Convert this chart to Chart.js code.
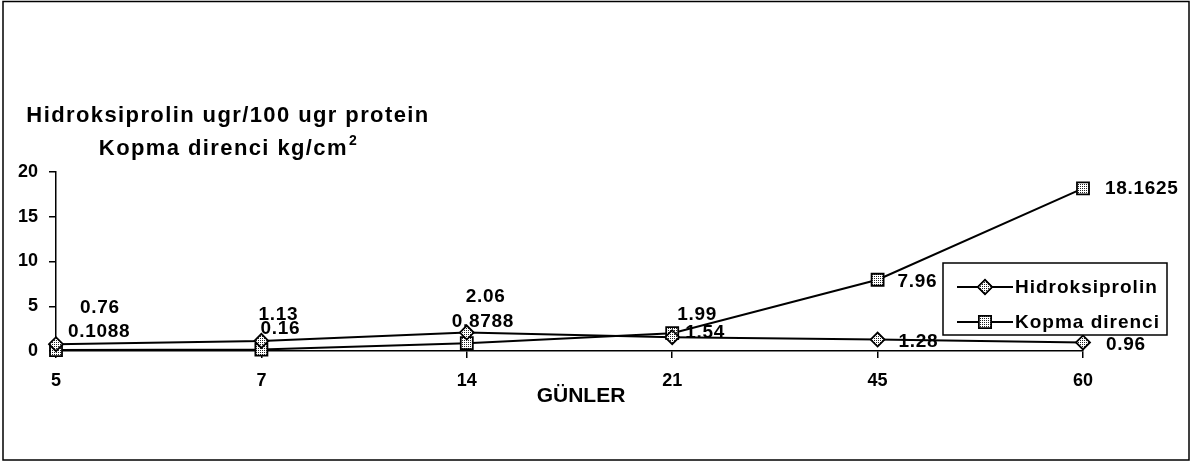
<!DOCTYPE html>
<html>
<head>
<meta charset="utf-8">
<script src="https://cdn.jsdelivr.net/npm/chart.js@4"></script>
<style>
  body { margin: 0; background: #fff; }
  canvas { display: block; }
</style>
</head>
<body>
<canvas id="chart" width="1194" height="464"></canvas>
<script>
// ================= DATA =================
const days = ["5", "7", "14", "21", "45", "60"];
const hidroksiprolin = [0.76, 1.13, 2.06, 1.54, 1.28, 0.96];
const kopmaDirenci = [0.1088, 0.16, 0.8788, 1.99, 7.96, 18.1625];
const yTicks = [0, 5, 10, 15, 20];

const titleLines = ["Hidroksiprolin ugr/100 ugr protein", "Kopma direnci kg/cm"];
const xTitle = "GÜNLER";

// label offsets (px) from each point, text left edge / vertical centre
const hLabelDx = [24, -3, -1, 13, 21, 23];
const hLabelDy = [-36, -26, -36, -4, 2, 2];
const kLabelDx = [12, -1, -15, 5, 20, 22];
const kLabelDy = [-18, -21, -21, -18, 2, 0];

const FONT = "'Liberation Sans', Arial, sans-serif";

// stippled fill for the markers
const tile = document.createElement("canvas");
tile.width = 2; tile.height = 2;
const tctx = tile.getContext("2d");
tctx.fillStyle = "#fff";
tctx.fillRect(0, 0, 2, 2);
tctx.fillStyle = "#222";
tctx.fillRect(0, 0, 1, 1);
const canvas = document.getElementById("chart");
const dotFill = canvas.getContext("2d").createPattern(tile, "repeat");

// ================= DRAWING EXTRAS =================
const extras = {
  id: "extras",
  afterDraw(chart) {
    const ctx = chart.ctx;
    ctx.save();

    // outer frame
    ctx.strokeStyle = "#000";
    ctx.lineWidth = 1.5;
    ctx.strokeRect(3, 1.5, 1186, 458.5);

    // title
    ctx.fillStyle = "#000";
    ctx.textBaseline = "alphabetic";
    ctx.textAlign = "left";
    ctx.font = "bold 22px " + FONT;
    ctx.letterSpacing = "1.4px";
    const w1 = ctx.measureText(titleLines[0]).width;
    ctx.fillText(titleLines[0], 228 - w1 / 2, 122);
    const w2 = ctx.measureText(titleLines[1]).width;
    ctx.font = "bold 14px " + FONT;
    const ws = ctx.measureText("2").width;
    const x2 = 228 - (w2 + ws) / 2;
    ctx.font = "bold 22px " + FONT;
    ctx.fillText(titleLines[1], x2, 155);
    ctx.font = "bold 14px " + FONT;
    ctx.fillText("2", x2 + w2 + 1, 145);

    // x axis title
    ctx.font = "bold 21px " + FONT;
    ctx.letterSpacing = "0px";
    ctx.textAlign = "center";
    ctx.textBaseline = "middle";
    ctx.fillText(xTitle, 581, 396);

    // data labels
    ctx.font = "bold 19px " + FONT;
    ctx.letterSpacing = "0.7px";
    ctx.textAlign = "left";
    const offs = [[hLabelDx, hLabelDy], [kLabelDx, kLabelDy]];
    chart.data.datasets.forEach((ds, i) => {
      const meta = chart.getDatasetMeta(i);
      meta.data.forEach((pt, j) => {
        ctx.fillText(String(ds.data[j]), pt.x + offs[i][0][j], pt.y + offs[i][1][j]);
      });
    });

    // legend
    const lx = 943, ly = 263, lw = 224, lh = 72;
    ctx.fillStyle = "#fff";
    ctx.fillRect(lx, ly, lw, lh);
    ctx.strokeStyle = "#000";
    ctx.lineWidth = 1.5;
    ctx.strokeRect(lx, ly, lw, lh);
    ctx.font = "bold 19px " + FONT;
    ctx.letterSpacing = "1px";
    chart.data.datasets.forEach((ds, i) => {
      const cy = ly + 24 + i * 35;
      ctx.beginPath();
      ctx.moveTo(lx + 14, cy);
      ctx.lineTo(lx + 70, cy);
      ctx.lineWidth = 2;
      ctx.stroke();
      Chart.helpers.drawPoint(ctx, {
        pointStyle: ds.pointStyle,
        radius: ds.pointRadius,
        borderWidth: 1.5
      }, lx + 42, cy);
      ctx.fillStyle = dotFill;
      ctx.fill();
      ctx.lineWidth = 1.5;
      ctx.stroke();
      ctx.fillStyle = "#000";
      ctx.fillText(ds.label, lx + 72, cy + 1);
    });

    ctx.restore();
  }
};

// ================= CHART =================
const tickFont = { family: FONT, size: 18, weight: "bold" };

new Chart(canvas, {
  type: "line",
  data: {
    labels: days,
    datasets: [
      {
        label: "Hidroksiprolin",
        data: hidroksiprolin,
        borderColor: "#000",
        borderWidth: 2,
        pointStyle: "rectRot",
        pointRadius: 7,
        pointBorderColor: "#000",
        pointBorderWidth: 1.8,
        pointBackgroundColor: dotFill,
        tension: 0,
        clip: false
      },
      {
        label: "Kopma direnci",
        data: kopmaDirenci,
        borderColor: "#000",
        borderWidth: 2,
        pointStyle: "rect",
        pointRadius: 8.5,
        pointBorderColor: "#000",
        pointBorderWidth: 1.8,
        pointBackgroundColor: dotFill,
        tension: 0,
        clip: false
      }
    ]
  },
  options: {
    responsive: false,
    animation: false,
    layout: { padding: { left: 0, right: 111, top: 172, bottom: 0 } },
    plugins: {
      legend: { display: false },
      tooltip: { enabled: false },
      title: { display: false }
    },
    scales: {
      x: {
        offset: false,
        grid: { display: true, drawOnChartArea: false, drawTicks: true, tickLength: 7, color: "#000", lineWidth: 1.5 },
        border: { display: true, color: "#000", width: 1.5 },
        ticks: { color: "#000", font: tickFont, padding: 12, maxRotation: 0, autoSkip: false },
        afterFit: (s) => { s.height = 113; }
      },
      y: {
        min: 0,
        max: 20,
        afterBuildTicks: (s) => { s.ticks = yTicks.map(v => ({ value: v })); },
        grid: { display: true, drawOnChartArea: false, drawTicks: true, tickLength: 7, color: "#000", lineWidth: 1.5 },
        border: { display: true, color: "#000", width: 1.5 },
        ticks: { color: "#000", font: tickFont, padding: 11 },
        afterFit: (s) => { s.width = 56; }
      }
    }
  },
  plugins: [extras]
});
</script>
</body>
</html>
